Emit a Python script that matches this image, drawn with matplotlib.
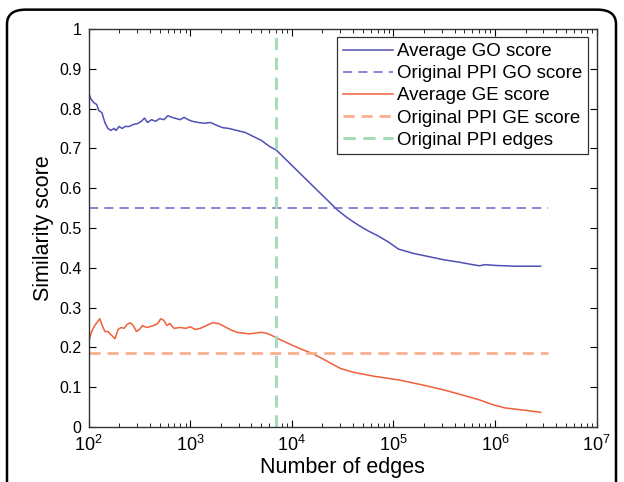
import matplotlib
matplotlib.use("Agg")
import matplotlib.pyplot as plt
import numpy as np
from matplotlib.patches import FancyBboxPatch

plt.rcParams['font.family'] = ['Liberation Sans', 'DejaVu Sans']

# log10(number of edges) and scores
go_logx = [2.00, 2.02, 2.05, 2.08, 2.10, 2.13, 2.16, 2.19, 2.22, 2.25, 2.27, 2.30,
           2.33, 2.36, 2.40, 2.44, 2.48, 2.52, 2.55, 2.58, 2.62, 2.66, 2.70, 2.74,
           2.78, 2.82, 2.86, 2.90, 2.94, 2.98, 3.02, 3.08, 3.14, 3.20, 3.26, 3.32,
           3.38, 3.46, 3.54, 3.62, 3.70, 3.78, 3.85, 3.95, 4.05, 4.15, 4.25, 4.35,
           4.45, 4.55, 4.65, 4.75, 4.85, 4.95, 5.05, 5.20, 5.35, 5.50, 5.65, 5.80,
           5.85, 5.90, 6.00, 6.20, 6.45]
go_score = [0.840, 0.825, 0.815, 0.810, 0.795, 0.790, 0.765, 0.750, 0.745, 0.750, 0.745, 0.755,
            0.750, 0.755, 0.755, 0.760, 0.762, 0.768, 0.776, 0.765, 0.772, 0.768, 0.775, 0.772,
            0.782, 0.778, 0.775, 0.772, 0.778, 0.772, 0.768, 0.765, 0.763, 0.765, 0.758, 0.752,
            0.750, 0.745, 0.740, 0.730, 0.720, 0.705, 0.695, 0.670, 0.645, 0.620, 0.595, 0.570,
            0.545, 0.525, 0.508, 0.493, 0.480, 0.465, 0.447, 0.436, 0.428, 0.420, 0.414, 0.407,
            0.405, 0.408, 0.406, 0.404, 0.404]

ge_logx = [2.00, 2.03, 2.06, 2.09, 2.11, 2.13, 2.16, 2.19, 2.22, 2.26, 2.29, 2.32,
           2.35, 2.38, 2.41, 2.44, 2.47, 2.50, 2.53, 2.57, 2.60, 2.64, 2.68, 2.71,
           2.74, 2.77, 2.80, 2.84, 2.90, 2.96, 3.00, 3.05, 3.10, 3.16, 3.22, 3.28,
           3.34, 3.40, 3.46, 3.52, 3.58, 3.64, 3.70, 3.76, 3.82, 3.90, 4.00, 4.10,
           4.20, 4.30, 4.40, 4.48, 4.60, 4.80, 5.06, 5.30, 5.50, 5.70, 5.85, 5.98,
           6.10, 6.30, 6.45]
ge_score = [0.215, 0.240, 0.255, 0.265, 0.272, 0.258, 0.240, 0.240, 0.232, 0.222, 0.245, 0.250,
            0.248, 0.258, 0.262, 0.255, 0.240, 0.245, 0.255, 0.250, 0.252, 0.255, 0.260, 0.272,
            0.268, 0.255, 0.260, 0.248, 0.250, 0.248, 0.252, 0.245, 0.248, 0.255, 0.262, 0.260,
            0.252, 0.244, 0.238, 0.236, 0.234, 0.236, 0.238, 0.235, 0.228, 0.218, 0.206, 0.195,
            0.185, 0.172, 0.158, 0.147, 0.138, 0.128, 0.118, 0.105, 0.093, 0.079, 0.068, 0.056,
            0.048, 0.042, 0.037]

orig_go = 0.55
orig_ge = 0.185
orig_edges = 7000
ref_span = [1e2, 3.3e6]
y_ticks = [0, 0.1, 0.2, 0.3, 0.4, 0.5, 0.6, 0.7, 0.8, 0.9, 1]
y_labels = ['0', '0.1', '0.2', '0.3', '0.4', '0.5', '0.6', '0.7', '0.8', '0.9', '1']

fig = plt.figure(figsize=(6.24, 4.82), dpi=100)
ax = fig.add_axes([0.142, 0.114, 0.814, 0.826])

blue = '#5050b4'
orange = '#f0603a'
ax.plot(10 ** np.array(go_logx), go_score, color=blue, lw=1.1, label='Average GO score')
ax.plot(ref_span, [orig_go, orig_go], color='#6464c8', lw=1.1, ls=(0, (6, 4)),
        label='Original PPI GO score')
ax.plot(10 ** np.array(ge_logx), ge_score, color=orange, lw=1.1, label='Average GE score')
ax.plot(ref_span, [orig_ge, orig_ge], color='#f8b090', lw=2.0, ls=(0, (4, 2.5)),
        label='Original PPI GE score')
ax.plot([orig_edges, orig_edges], [0, 1], color='#a8dcb8', lw=2.2, ls=(0, (4, 2.5)),
        label='Original PPI edges')

ax.set_xscale('log')
ax.set_xlim(1e2, 1e7)
ax.set_ylim(0, 1)
ax.set_yticks(y_ticks)
ax.set_yticklabels(y_labels)
ax.tick_params(which='both', direction='in', top=True, right=True, labelsize=11.5)
ax.tick_params(which='major', length=5)
ax.tick_params(which='minor', length=3)
ax.tick_params(axis='x', which='major', pad=6, labelsize=13)
ax.tick_params(axis='y', which='major', pad=5)
for s in ax.spines.values():
    s.set_linewidth(1.0)
    s.set_color('#333333')

ax.set_xlabel('Number of edges', fontsize=15.5, labelpad=1)
ax.set_ylabel('Similarity score', fontsize=15.5, labelpad=4)

leg = ax.legend(loc='upper right', fontsize=13.5, frameon=True, fancybox=False,
                handlelength=2.7, handletextpad=0.2, labelspacing=0.27,
                borderpad=0.3, borderaxespad=0.45)
leg.get_frame().set_edgecolor('black')
leg.get_frame().set_linewidth(0.9)

# rounded frame around the figure
frame = FancyBboxPatch((7 / 624, -0.05), 609 / 624, 1.03,
                       boxstyle='round,pad=0,rounding_size=0.03',
                       transform=fig.transFigure, fill=False,
                       edgecolor='black', lw=1.8, clip_on=False)
fig.patches.append(frame)

fig.savefig('out.png', dpi=100)
